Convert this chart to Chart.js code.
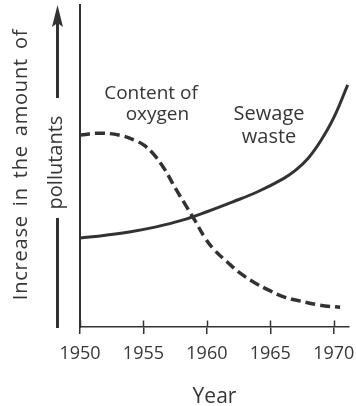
<!DOCTYPE html>
<html>
<head>
<meta charset="utf-8">
<script src="https://cdn.jsdelivr.net/npm/chart.js@4/dist/chart.umd.min.js"></script>
<style>
  html, body { margin: 0; padding: 0; background: #ffffff; }
  #wrap { width: 356px; height: 406px; }
</style>
</head>
<body>
<div id="wrap"><canvas id="chart" width="356" height="406"></canvas></div>
<script>
// Years shown on the horizontal axis
const tickYears = [1950, 1955, 1960, 1965, 1970];

// Sewage waste (relative amount, 0-100)
const sewageYears  = [1950, 1952, 1954, 1956, 1958, 1960, 1962, 1964, 1966, 1967, 1968, 1969, 1970, 1971.1];
const sewageLevels = [27.6, 28.5, 29.6, 31.1, 33.1, 35.8, 38.8, 42.0, 46.0, 48.7, 52.5, 58.0, 65.0, 75.2];

// Content of oxygen (relative amount, 0-100)
const oxygenYears  = [1950, 1951.6, 1953.2, 1954.3, 1955.1, 1955.9, 1956.7, 1957.5, 1958.3, 1959.1,
                      1959.8, 1960.6, 1961.6, 1962.6, 1963.8, 1965.0, 1966.1, 1967.3, 1968.9, 1970.5];
const oxygenLevels = [59.6, 60.2, 59.5, 58.0, 56.3, 53.2, 48.8, 43.2, 38.0, 32.8,
                      28.0, 23.9, 20.2, 16.8, 13.7, 11.2, 9.3, 8.1, 6.8, 6.1];

// Text
const xTitle = 'Year';
const yTitleLines = ['Increase in the amount of', 'pollutants'];
const oxygenLabel = ['Content of', 'oxygen'];
const sewageLabel = ['Sewage', 'waste'];

const ink = '#323330';
const textInk = '#363636';
const family = '"Open Sans", "Noto Sans", sans-serif';

const toPoints = (xs, ys) => xs.map((x, i) => ({ x, y: ys[i] }));

// Extra drawing: upper halves of the crossing ticks, the rotated y title with
// its arrow, and the curve captions placed in data coordinates.
const decorations = {
  id: 'decorations',
  afterDraw(chart, args, opts) {
    const { ctx, chartArea } = chart;
    const xs = chart.scales.x, ys = chart.scales.y;
    ctx.save();

    // tick marks extend above the axis line as well
    ctx.strokeStyle = ink;
    ctx.lineWidth = 1.5;
    xs.ticks.forEach(t => {
      const px = Math.round(xs.getPixelForValue(t.value)) + 0.5;
      ctx.beginPath();
      ctx.moveTo(px, chartArea.bottom - 6.5);
      ctx.lineTo(px, chartArea.bottom);
      ctx.stroke();
    });

    // vertical title, read bottom to top
    ctx.fillStyle = textInk;
    ctx.font = '20px ' + family;
    ctx.textAlign = 'center';
    ctx.textBaseline = 'alphabetic';
    if ('letterSpacing' in ctx) ctx.letterSpacing = '0.8px';
    if ('wordSpacing' in ctx) ctx.wordSpacing = '3px';
    ctx.save();
    ctx.translate(27, 164.5);
    ctx.rotate(-Math.PI / 2);
    ctx.fillText(yTitleLines[0], 0, 0);
    ctx.restore();
    if ('letterSpacing' in ctx) ctx.letterSpacing = '0px';
    if ('wordSpacing' in ctx) ctx.wordSpacing = '0px';
    ctx.save();
    ctx.translate(62, 162.5);
    ctx.rotate(-Math.PI / 2);
    ctx.fillText(yTitleLines[1], 0, 0);
    ctx.restore();

    // arrow beside the second title line
    const ax = 57.5;
    ctx.strokeStyle = ink;
    ctx.lineWidth = 3;
    ctx.beginPath();
    ctx.moveTo(ax, chartArea.bottom + 1);
    ctx.lineTo(ax, 218);
    ctx.moveTo(ax, 98);
    ctx.lineTo(ax, chartArea.top + 18);
    ctx.stroke();
    ctx.fillStyle = ink;
    ctx.beginPath();
    ctx.moveTo(ax, chartArea.top);
    ctx.lineTo(ax + 5.5, chartArea.top + 22);
    ctx.lineTo(ax, chartArea.top + 18);
    ctx.lineTo(ax - 5.5, chartArea.top + 22);
    ctx.closePath();
    ctx.fill();

    // curve captions
    ctx.fillStyle = textInk;
    ctx.textAlign = 'center';
    ctx.textBaseline = 'alphabetic';
    opts.captions.forEach(c => {
      ctx.font = c.size + 'px ' + family;
      c.lines.forEach((line, i) => {
        const a = c.anchors[i];
        ctx.fillText(line, xs.getPixelForValue(a[0]), ys.getPixelForValue(a[1]));
      });
    });
    ctx.restore();
  }
};

new Chart(document.getElementById('chart'), {
  type: 'line',
  data: {
    datasets: [
      {
        label: sewageLabel.join(' '),
        data: toPoints(sewageYears, sewageLevels),
        borderColor: ink,
        borderWidth: 3,
        pointRadius: 0,
        fill: false,
        tension: 0.4
      },
      {
        label: oxygenLabel.join(' '),
        data: toPoints(oxygenYears, oxygenLevels),
        borderColor: ink,
        borderWidth: 3.5,
        borderDash: [10, 5],
        borderCapStyle: 'butt',
        pointRadius: 0,
        fill: false,
        tension: 0.4
      }
    ]
  },
  options: {
    responsive: false,
    animation: false,
    devicePixelRatio: 1,
    layout: { padding: { left: 80, top: 5, right: 7, bottom: 0 } },
    plugins: {
      legend: { display: false },
      tooltip: { enabled: false },
      decorations: {
        captions: [
          { lines: oxygenLabel, size: 19, anchors: [[1955.6, 70.8], [1956.1, 64.3]] },
          { lines: sewageLabel, size: 20, anchors: [[1964.9, 64.3], [1964.9, 57.1]] }
        ]
      }
    },
    scales: {
      x: {
        type: 'linear',
        min: 1950,
        max: 1971.2,
        afterBuildTicks: s => { s.ticks = tickYears.map(v => ({ value: v })); },
        afterFit: s => { s.height = 79; s.paddingLeft = 0; s.paddingRight = 0; },
        grid: { drawOnChartArea: false, drawTicks: true, tickLength: 7, color: ink, lineWidth: 1.5 },
        border: { display: true, color: ink, width: 1.5 },
        ticks: {
          autoSkip: false,
          maxRotation: 0,
          padding: 9,
          color: textInk,
          font: { family: family, size: 18 },
          callback: v => String(v)
        },
        title: {
          display: true,
          text: xTitle,
          color: textInk,
          font: { family: family, size: 21, lineHeight: 0.82 },
          padding: { top: 0, bottom: 0 }
        }
      },
      y: {
        min: 0,
        max: 100,
        afterFit: s => { s.width = 0; },
        ticks: { display: false },
        grid: { display: false },
        border: { display: true, color: ink, width: 2 }
      }
    }
  },
  plugins: [decorations]
});
</script>
</body>
</html>
